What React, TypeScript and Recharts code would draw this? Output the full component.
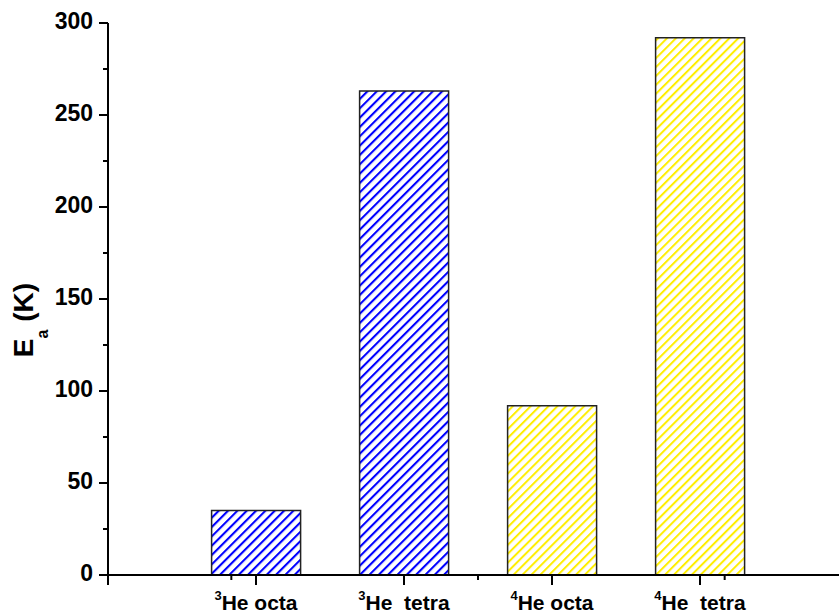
import React from "react";
import {
  BarChart,
  Bar,
  Cell,
  XAxis,
  YAxis,
  ReferenceLine,
} from "recharts";

// Activation energies of helium in octahedral and tetrahedral sites
const massNumbers = ["3", "3", "4", "4"];
const siteNames = ["He octa", "He  tetra", "He octa", "He  tetra"];
const activationEnergy = [35, 263, 92, 292];
const hatchIds = ["hatchBlue", "hatchBlue", "hatchYellow", "hatchYellow"];

const yTicks = [0, 50, 100, 150, 200, 250, 300];
const yMinorTicks = [25, 75, 125, 175, 225, 275];
// positions on the 0..5 frame axis: edge ticks and the half-way minor ticks
const xEdgeTicks = [0, 5];
const xMinorTicks = [0.5, 1.5, 2.5, 3.5, 4.5];

const data = siteNames.map((site, i) => ({
  name: massNumbers[i] + site,
  mass: massNumbers[i],
  site,
  value: activationEnergy[i],
  hatch: hatchIds[i],
}));

const FONT = '"Liberation Sans", Arial, Helvetica, sans-serif';
const AXIS = { stroke: "#000", strokeWidth: 2 };

const XTick = (props: any) => {
  const { x, y, index } = props;
  const d = data[index];
  return (
    <text
      x={x}
      y={y + 23}
      textAnchor="middle"
      fontFamily={FONT}
      fontWeight="bold"
      fontSize={21}
      fill="#000"
      style={{ whiteSpace: "pre" }}
    >
      <tspan fontSize={13} dy={-10}>
        {d.mass}
      </tspan>
      <tspan dy={10}>{d.site}</tspan>
    </text>
  );
};

const YLabel = (props: any) => {
  const vb = props.viewBox || { x: 0, y: 23, width: 108, height: 552 };
  const cx = vb.x + 33;
  const cy = vb.y + vb.height / 2 + 21;
  return (
    <text
      transform={`translate(${cx},${cy}) rotate(-90)`}
      textAnchor="middle"
      fontFamily={FONT}
      fontWeight="bold"
      fontSize={28}
      fill="#000"
    >
      <tspan>E</tspan>
      <tspan fontSize={16} dy={15}>
        a
      </tspan>
      <tspan dy={-15}> (K)</tspan>
    </text>
  );
};

const minorYShape = (len: number) => (p: any) => {
  const x0 = Math.min(p.x1, p.x2);
  return <line x1={x0 - len} y1={p.y1} x2={x0} y2={p.y2} stroke="#000" strokeWidth={2} />;
};

const minorXShape = (len: number) => (p: any) => {
  const y0 = Math.max(p.y1, p.y2);
  return <line x1={p.x1} y1={y0} x2={p.x2} y2={y0 + len} stroke="#000" strokeWidth={2} />;
};

export default function App() {
  return (
    <div
      style={{
        position: "fixed",
        left: 0,
        top: 0,
        width: 839,
        height: 615,
        overflow: "hidden",
        background: "#fff",
      }}
    >
      <BarChart
        width={870}
        height={615}
        data={data}
        margin={{ top: 23, right: 22, bottom: 0, left: 0 }}
        barCategoryGap="20%"
      >
        <defs>
          <pattern
            id="hatchBlue"
            patternUnits="userSpaceOnUse"
            width={6.6}
            height={10}
            patternTransform="rotate(45)"
          >
            <rect width={6.6} height={10} fill="#fff" />
            <line x1={1} y1={0} x2={1} y2={10} stroke="#0000ff" strokeWidth={2.2} />
          </pattern>
          <pattern
            id="hatchYellow"
            patternUnits="userSpaceOnUse"
            width={6.3}
            height={10}
            patternTransform="rotate(45)"
          >
            <rect width={6.3} height={10} fill="#fff" />
            <line x1={1} y1={0} x2={1} y2={10} stroke="#ffee00" strokeWidth={2} />
          </pattern>
        </defs>

        <XAxis
          dataKey="name"
          interval={0}
          height={40}
          padding={{ left: 74, right: 74 }}
          tickSize={10}
          tickLine={AXIS}
          axisLine={AXIS}
          tick={<XTick />}
        />
        <XAxis
          xAxisId="frame"
          orientation="top"
          type="number"
          domain={[0, 5]}
          allowDataOverflow
          height={0}
          tick={false}
          tickLine={false}
          axisLine={AXIS}
        />
        <YAxis
          domain={[0, 300]}
          ticks={yTicks}
          width={108}
          tickSize={9}
          tickMargin={6}
          tickLine={AXIS}
          axisLine={AXIS}
          tick={{ fontFamily: FONT, fontWeight: "bold", fontSize: 23, fill: "#000", dy: -2 }}
          label={<YLabel />}
        />
        <YAxis
          yAxisId="frame"
          orientation="right"
          domain={[0, 300]}
          width={0}
          tick={false}
          tickLine={false}
          axisLine={AXIS}
        />

        <Bar dataKey="value" stroke="#222" strokeWidth={1.5} isAnimationActive={false}>
          {data.map((d, i) => (
            <Cell key={i} fill={`url(#${d.hatch})`} />
          ))}
        </Bar>

        {yMinorTicks.map((v) => (
          <ReferenceLine key={`ym${v}`} y={v} shape={minorYShape(5)} />
        ))}
        {xMinorTicks.map((v) => (
          <ReferenceLine key={`xm${v}`} xAxisId="frame" x={v} shape={minorXShape(5)} />
        ))}
        {xEdgeTicks.map((v) => (
          <ReferenceLine key={`xe${v}`} xAxisId="frame" x={v} shape={minorXShape(10)} />
        ))}
      </BarChart>
    </div>
  );
}
